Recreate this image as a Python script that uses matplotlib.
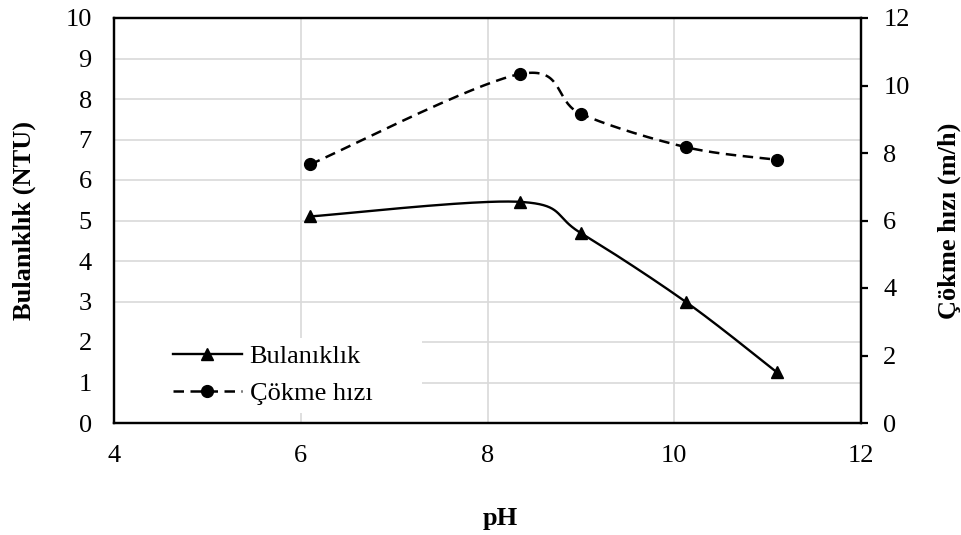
import numpy as np
import matplotlib
matplotlib.use("Agg")
import matplotlib.pyplot as plt
from matplotlib.lines import Line2D
from matplotlib.patches import Rectangle

plt.rcParams['font.family'] = ['Liberation Serif', 'DejaVu Serif']

ph = [6.1, 8.35, 9.0, 10.13, 11.1]
bulaniklik = [5.1, 5.46, 4.69, 2.98, 1.25]
cokme_hizi = [7.66, 10.34, 9.16, 8.17, 7.8]

FS = 19
DASH = (4.2, 2.6)


def smooth(x, y, n=40):
    """Catmull-Rom curve through the points (Excel-style smoothed line)."""
    p = np.column_stack([x, y]).astype(float)
    p = np.vstack([p[0], p, p[-1]])
    out = []
    t = np.linspace(0, 1, n)[:, None]
    for i in range(1, len(p) - 2):
        p0, p1, p2, p3 = p[i - 1], p[i], p[i + 1], p[i + 2]
        c1 = p1 + (p2 - p0) / 6
        c2 = p2 - (p3 - p1) / 6
        seg = ((1 - t) ** 3) * p1 + 3 * ((1 - t) ** 2) * t * c1 + 3 * (1 - t) * t ** 2 * c2 + t ** 3 * p2
        out.append(seg if i == 1 else seg[1:])
    out = np.vstack(out)
    return out[:, 0], out[:, 1]


W, H = 961, 535
fig = plt.figure(figsize=(W / 100, H / 100), dpi=100)
ax = fig.add_axes([114 / W, 1 - 423 / H, (861 - 114) / W, (423 - 18) / H])
ax2 = ax.twinx()

sx, sy = smooth(ph, bulaniklik)
ax.plot(sx, sy, color='black', lw=1.7)
ax.plot(ph, bulaniklik, linestyle='none', marker='^', color='black', ms=8.5)

cx, cy = smooth(ph, cokme_hizi)
ax2.plot(cx, cy, color='black', lw=1.8, dashes=DASH)
ax2.plot(ph, cokme_hizi, linestyle='none', marker='o', color='black', ms=8.5)

ax.set_xlim(4, 12)
ax.set_ylim(0, 10)
ax2.set_ylim(0, 12)
ax.set_xticks([4, 6, 8, 10, 12])
ax.set_yticks(range(0, 11))
ax2.set_yticks(range(0, 13, 2))

ax.grid(True, color='#d9d9d9', lw=1.2)
ax.set_axisbelow(True)

for s in ax.spines.values():
    s.set_linewidth(1.6)
for s in ax2.spines.values():
    s.set_linewidth(1.6)

ax.tick_params(axis='both', length=0, labelsize=FS, pad=16)
ax2.tick_params(axis='y', length=5, width=1.6, direction='out', labelsize=FS, pad=11)

ax.set_ylabel('Bulanıklık (NTU)', fontsize=FS, fontweight='bold', labelpad=21)
ax2.set_ylabel('Çökme hızı (m/h)', fontsize=FS, fontweight='bold', labelpad=20)
fig.text(500 / W, 1 - 518 / H, 'pH', fontsize=FS, fontweight='bold', ha='center', va='center')

# white legend area over the grid
ax.add_patch(Rectangle((115, H - 413), 307, 75, transform=None,
                       facecolor='white', edgecolor='none', zorder=1.5))

handles = [
    Line2D([], [], color='black', lw=1.7, marker='^', ms=8.5),
    Line2D([], [], color='black', lw=1.8, dashes=DASH, marker='o', ms=8.5),
]
leg = ax2.legend(handles, ['Bulanıklık', 'Çökme hızı'], loc='center left',
                 bbox_to_anchor=(173 / W, 1 - 375 / H), bbox_transform=fig.transFigure,
                 fontsize=FS, frameon=False, borderpad=0, borderaxespad=0,
                 handlelength=2.6, handletextpad=0.3, labelspacing=0.5)

fig.savefig('out.png', dpi=100)
